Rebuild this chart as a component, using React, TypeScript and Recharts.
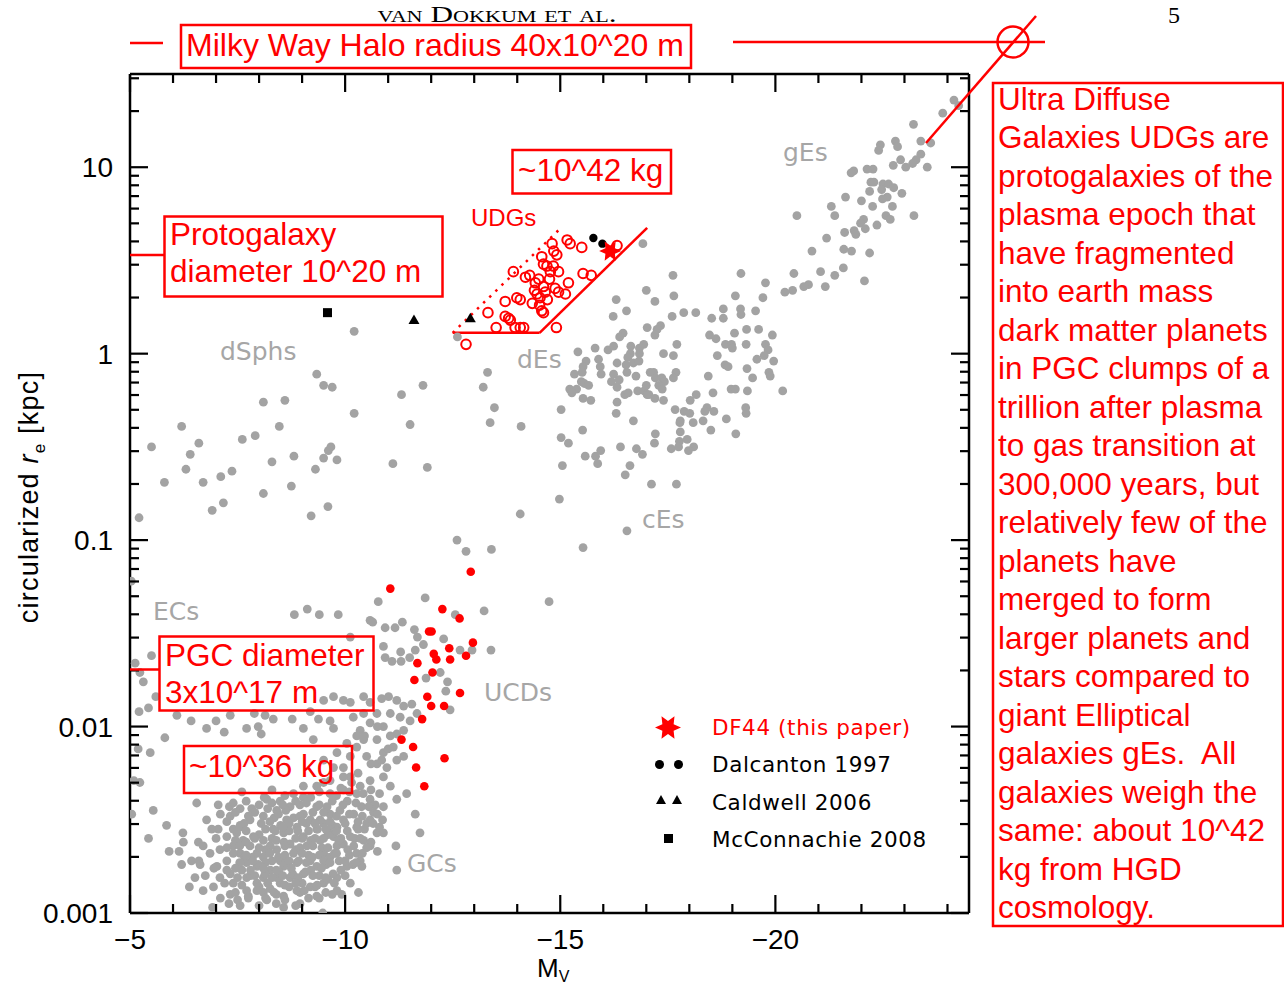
import React from 'react';
import { ScatterChart, Scatter, XAxis, YAxis, ReferenceLine } from 'recharts';

type Pt = [number, number]; // [M_V, log10(r_e / kpc)]

// ---------------- data ----------------
const giantEllipticals: Pt[] = [
  [-24.15,1.36],[-23.89,1.29],[-24.26,1.33],[-23.21,1.23],[-22.79,1.14],[-22.84,1.11],[-23.38,1.14],[-23.61,1.13],[-22.44,1.12],[-22.40,1.09],
  [-22.91,1.04],[-23.38,1.07],[-23.27,1.04],[-23.19,1.02],[-23.03,1.00],[-22.74,1.01],[-23.53,1.00],[-22.27,0.99],[-22.13,0.99],[-21.82,0.98],
  [-21.76,0.97],[-22.22,0.92],[-22.29,0.92],[-22.50,0.91],[-22.63,0.91],[-22.75,0.89],[-22.47,0.88],[-22.19,0.87],[-22.94,0.86],[-22.60,0.84],
  [-22.49,0.83],[-21.63,0.84],[-22.00,0.82],[-22.72,0.79],[-22.26,0.79],[-21.30,0.79],[-21.38,0.74],[-20.50,0.74],[-22.57,0.74],[-22.67,0.72],
  [-23.22,0.74],[-22.05,0.72],[-21.98,0.70],[-22.36,0.69],[-22.09,0.67],[-21.83,0.66],[-21.61,0.65],[-21.87,0.64],[-21.19,0.62],[-21.59,0.56],
  [-21.77,0.55],[-20.85,0.55],[-22.19,0.54],[-21.05,0.44],[-20.43,0.43],[-21.58,0.46],[-21.38,0.42],[-19.77,0.38],[-20.77,0.37],[-20.66,0.36],
  [-22.07,0.39],[-21.16,0.36],[-20.40,0.34],[-20.22,0.33],[-19.71,0.30],
];

const dwarfEllipticals: Pt[] = [
  [-16.92,0.59],[-17.62,0.42],[-19.20,0.43],[-19.07,0.31],[-17.00,0.34],[-17.64,0.31],[-16.30,0.29],[-17.20,0.28],[-16.54,0.23],[-16.23,0.20],
  [-17.87,0.22],[-18.15,0.22],[-17.60,0.20],[-18.52,0.19],[-18.79,0.24],[-18.79,0.19],[-19.19,0.24],[-19.20,0.21],[-19.54,0.23],[-17.33,0.15],
  [-17.25,0.13],[-17.02,0.14],[-17.20,0.10],[-16.46,0.11],[-16.38,0.09],[-19.05,0.11],[-19.33,0.13],[-19.61,0.13],[-19.93,0.10],[-18.47,0.10],
  [-18.62,0.08],[-18.84,0.05],[-18.98,0.05],[-19.00,0.03],[-19.32,0.05],[-19.77,0.05],[-16.94,0.05],[-16.64,0.04],[-16.84,0.03],[-15.81,0.03],
  [-16.11,0.02],[-16.24,0.04],[-15.41,0.01],[-17.71,0.05],[-16.63,0.00],[-16.84,0.00],[-16.57,-0.02],[-17.40,0.00],[-17.63,-0.01],[-18.65,-0.01],
  [-19.83,0.02],[-19.74,-0.01],[-19.57,-0.03],[-19.96,-0.04],[-16.32,-0.05],[-15.89,-0.03],[-15.60,-0.04],[-15.53,-0.07],[-15.93,-0.07],[-16.70,-0.05],
  [-16.83,-0.04],[-16.53,-0.06],[-16.55,-0.10],[-18.83,-0.06],[-18.90,-0.07],[-19.34,-0.08],[-19.85,-0.10],[-19.88,-0.12],[-19.47,-0.13],[-15.33,-0.11],
  [-15.51,-0.10],[-15.95,-0.11],[-16.24,-0.11],[-16.37,-0.14],[-16.76,-0.12],[-17.09,-0.10],[-17.17,-0.10],[-17.21,-0.13],[-17.36,-0.13],[-17.42,-0.15],
  [-17.69,-0.10],[-17.63,-0.13],[-18.44,-0.12],[-15.49,-0.15],[-15.56,-0.16],[-15.66,-0.17],[-16.19,-0.15],[-15.22,-0.19],[-15.38,-0.19],[-15.27,-0.21],
  [-16.32,-0.18],[-16.50,-0.22],[-16.58,-0.21],[-16.80,-0.20],[-16.95,-0.20],[-17.00,-0.17],[-17.02,-0.22],[-17.06,-0.22],[-17.20,-0.24],[-17.29,-0.17],
  [-17.37,-0.19],[-17.40,-0.25],[-15.53,-0.24],[-15.71,-0.25],[-16.32,-0.26],[-18.16,-0.22],[-18.02,-0.25],[-18.55,-0.21],[-18.97,-0.19],[-19.07,-0.19],
  [-19.35,-0.20],[-20.17,-0.20],[-15.02,-0.30],[-16.30,-0.32],[-17.67,-0.30],[-17.88,-0.31],[-18.01,-0.32],[-18.41,-0.29],[-18.36,-0.31],[-18.57,-0.31],
  [-19.31,-0.29],[-19.32,-0.32],[-17.79,-0.36],[-17.78,-0.37],[-18.09,-0.37],[-18.32,-0.36],[-18.86,-0.35],[-16.70,-0.36],[-15.52,-0.41],[-17.79,-0.42],
  [-18.50,-0.41],[-19.08,-0.43],[-17.21,-0.43],[-15.02,-0.45],[-15.19,-0.48],[-17.19,-0.48],[-17.77,-0.47],[-17.95,-0.46],[-16.40,-0.50],[-16.77,-0.51],
  [-16.91,-0.54],[-17.58,-0.51],[-17.75,-0.50],[-18.10,-0.50],[-17.98,-0.52],[-15.94,-0.52],[-15.82,-0.55],[-15.58,-0.55],[-15.87,-0.59],[-15.05,-0.60],
  [-16.62,-0.60],[-16.51,-0.65],[-17.12,-0.70],[-17.70,-0.70],[-14.98,-0.78],[-16.55,-0.95],[-15.53,-1.04],
  [-12.61,0.09],[-13.31,-0.10],[-13.21,-0.18],[-13.47,-0.29],[-13.37,-0.37],[-14.09,-0.39],
  [-12.60,-1.00],[-12.81,-1.06],[-13.40,-1.05],[-14.07,-0.86],[-14.74,-1.33],[-13.23,-1.38],[-13.39,-1.59],[-12.67,-1.59],[-12.95,-1.59],
];

const dwarfSpheroidals: Pt[] = [
  [-10.21,0.12],[-9.34,-0.11],[-9.50,-0.17],[-9.70,-0.18],[-8.10,-0.26],[-8.60,-0.25],[-10.21,-0.32],[-11.31,-0.22],[-11.81,-0.17],[-11.51,-0.38],
  [-6.20,-0.39],[-5.50,-0.50],[-6.60,-0.48],[-6.40,-0.54],[-6.30,-0.62],[-5.80,-0.69],[-6.70,-0.69],[-7.11,-0.66],[-7.37,-0.63],[-7.61,-0.46],
  [-7.91,-0.44],[-8.47,-0.39],[-8.30,-0.58],[-8.81,-0.55],[-9.31,-0.62],[-9.50,-0.56],[-9.61,-0.52],[-9.67,-0.50],[-9.81,-0.57],[-8.75,-0.71],
  [-8.10,-0.75],[-7.17,-0.80],[-6.91,-0.84],[-9.60,-0.82],[-9.21,-0.87],[-11.11,-0.59],[-11.91,-0.61],[-5.21,-0.88],
];

const compactSystems: Pt[] = [
  [-5.03,-1.22],[-10.77,-1.33],[-11.86,-1.31],[-9.12,-1.37],[-8.82,-1.40],[-9.40,-1.40],[-9.84,-1.40],[-10.12,-1.52],[-10.58,-1.43],[-10.64,-1.44],
  [-10.93,-1.47],[-11.16,-1.47],[-11.33,-1.44],[-11.61,-1.48],[-11.68,-1.52],[-12.29,-1.53],[-12.56,-1.40],[-10.89,-1.57],[-10.93,-1.63],[-11.29,-1.60],
  [-11.50,-1.63],[-11.63,-1.59],[-11.82,-1.56],[-11.30,-1.65],[-11.09,-1.65],[-11.88,-1.74],[-12.21,-1.71],[-12.38,-1.76],[-12.34,-1.81],[-12.44,-1.91],
  [-5.12,-1.66],[-5.50,-1.62],[-5.23,-1.71],[-5.31,-1.76],[-5.60,-1.84],[-5.21,-1.92],[-5.43,-1.90],[-5.81,-2.06],[-5.19,-2.12],[-5.47,-2.14],
  [-5.09,-2.29],[-5.23,-2.30],[-5.04,-2.47],[-5.54,-2.45],[-5.85,-2.53],[-5.43,-2.60],[-6.23,-2.57],[-6.24,-2.62],[-6.59,-2.62],[-5.91,-2.67],
  [-6.14,-2.67],[-6.43,-2.72],[-6.20,-2.74],[-6.63,-2.74],[-6.51,-2.81],[-6.38,-2.86],[-6.94,-2.86],[-6.92,-2.97],[-7.33,-2.90],[-7.56,-2.96],
  [-7.75,-2.91],[-8.18,-2.93],[-8.57,-2.97],[-8.95,-2.95],[-9.48,-3.00],[-9.92,-2.90],[-10.31,-2.89],[-11.20,-2.77],[-11.74,-2.57],[-11.63,-2.47],
  [-11.43,-2.36],[-10.87,-2.50],[-10.75,-2.67],[-11.18,-2.64],[-10.39,-2.75],
];

const globularClusters: Pt[] = [
  [-6.09,-1.94],[-6.42,-1.97],[-6.78,-2.01],[-7.00,-1.97],[-7.19,-2.03],[-7.33,-1.94],[-7.71,-2.01],[-7.98,-2.00],[-8.05,-2.04],[-7.89,-1.93],
  [-8.14,-1.94],[-8.33,-1.96],[-8.77,-1.96],[-9.03,-2.01],[-9.26,-2.07],[-9.38,-1.96],[-9.65,-1.97],[-9.73,-2.01],[-9.19,-1.92],[-9.50,-1.86],
  [-9.73,-1.84],[-9.96,-1.86],[-10.12,-1.87],[-10.43,-1.84],[-10.58,-1.87],[-10.85,-1.85],[-11.01,-1.84],[-11.20,-1.86],[-11.36,-1.89],[-11.55,-1.88],
  [-11.67,-1.93],[-11.51,-1.97],[-11.36,-2.02],[-11.20,-2.04],[-11.12,-2.11],[-11.20,-2.18],[-11.36,-2.16],[-10.97,-2.22],[-10.74,-2.07],[-10.89,-2.00],
  [-10.58,-1.98],[-10.35,-2.02],[-10.43,-2.07],[-10.27,-2.11],[-10.12,-2.16],[-10.50,-2.16],[-10.74,-2.20],[-10.89,-2.27],[-10.58,-2.29],[-10.35,-2.32],
  [-10.12,-2.27],[-9.96,-2.22],
  [-6.55,-2.41],[-7.05,-2.42],[-7.31,-2.43],[-7.56,-2.44],[-7.83,-2.44],[-7.33,-2.48],[-7.56,-2.53],[-6.78,-2.50],[-7.05,-2.55],[-7.48,-2.57],
  [-7.79,-2.50],[-8.18,-2.39],[-8.49,-2.40],[-9.03,-2.38],[-9.65,-2.36],[-9.96,-2.34],[-10.27,-2.36],[-10.58,-2.39],[-10.89,-2.43],[-10.58,-2.50],
  [-10.74,-2.57],[-10.43,-2.61],[-10.27,-2.68],[-10.04,-2.75],[-9.81,-2.81],[-9.50,-2.84],[-9.19,-2.86],[-8.88,-2.88],[-8.49,-2.84],[-8.26,-2.87],
  [-7.95,-2.84],[-7.71,-2.81],[-7.33,-2.79],[-7.25,-2.72],[-7.56,-2.68],[-7.79,-2.64],[-8.10,-2.61],[-8.33,-2.55],[-8.64,-2.50],[-9.03,-2.47],
  [-9.34,-2.43],[-9.65,-2.47],[-9.96,-2.50],[-10.27,-2.54],[-10.12,-2.59],[-9.81,-2.64],[-9.50,-2.68],[-9.19,-2.72],[-8.88,-2.73],[-8.57,-2.75],
  [-8.26,-2.77],[-7.95,-2.75],[-7.71,-2.73],[-8.10,-2.70],[-8.41,-2.66],[-8.72,-2.63],[-9.03,-2.59],[-9.34,-2.55],[-9.65,-2.57],[-9.81,-2.54],
  [-9.50,-2.52],[-9.19,-2.50],[-8.88,-2.54],[-8.57,-2.57],[-8.26,-2.64],[-7.95,-2.68],[-8.49,-2.72],[-8.80,-2.68],[-9.11,-2.64],[-9.42,-2.61],
  [-9.73,-2.59],[-9.96,-2.63],[-9.65,-2.70],[-9.34,-2.75],[-9.03,-2.79],[-8.72,-2.81],[-8.41,-2.81],[-8.10,-2.81],[-7.87,-2.59],[-7.63,-2.61],
  [-8.72,-2.43],[-8.41,-2.45],[-8.10,-2.48],[-9.03,-2.32],[-9.34,-2.32],[-9.65,-2.29],[-9.96,-2.27],[-9.73,-2.22],[-9.50,-2.18],[-9.81,-2.14],
  [-10.04,-2.09],[-10.27,-2.05],[-10.19,-1.95],[-10.43,-1.93],[-10.74,-1.93],[-11.05,-1.93],[-11.28,-1.95],[-10.89,-2.14],[-11.05,-2.32],[-11.20,-2.39],
  [-10.89,-2.57],[-10.58,-2.64],[-10.35,-2.72],[-10.12,-2.84],[-9.81,-2.88],[-9.34,-2.91],[-8.95,-2.89],[-8.57,-2.91],[-8.10,-2.89],[-7.71,-2.88],
  [-7.40,-2.84],[-7.09,-2.81],[-7.02,-2.75],[-6.86,-2.68],[-7.09,-2.66],[-7.25,-2.59],[-7.40,-2.55],
  [-7.90,-2.46],[-8.05,-2.52],[-8.20,-2.44],[-8.35,-2.49],[-8.50,-2.53],[-8.62,-2.45],[-8.80,-2.49],[-8.95,-2.42],[-9.10,-2.52],[-9.25,-2.46],
  [-9.42,-2.50],[-9.58,-2.43],[-9.70,-2.53],[-9.88,-2.45],[-10.05,-2.40],[-10.20,-2.47],[-10.38,-2.43],[-10.50,-2.52],[-10.66,-2.46],[-10.80,-2.36],
  [-7.70,-2.62],[-7.85,-2.70],[-8.00,-2.58],[-8.15,-2.66],[-8.30,-2.60],[-8.45,-2.70],[-8.58,-2.62],[-8.70,-2.56],[-8.85,-2.66],[-9.00,-2.60],
  [-9.15,-2.69],[-9.30,-2.60],[-9.46,-2.65],[-9.60,-2.58],[-9.75,-2.68],[-9.90,-2.60],[-10.06,-2.66],[-10.22,-2.60],[-10.40,-2.68],[-10.60,-2.62],
  [-7.60,-2.77],[-7.80,-2.80],[-7.98,-2.74],[-8.14,-2.79],[-8.30,-2.72],[-8.46,-2.78],[-8.62,-2.73],[-8.78,-2.79],[-8.92,-2.72],[-9.08,-2.78],
  [-9.24,-2.70],[-9.40,-2.80],[-9.56,-2.74],[-9.72,-2.79],[-9.86,-2.72],[-10.00,-2.80],[-10.18,-2.74],[-7.55,-2.54],[-7.40,-2.64],[-7.66,-2.70],
  [-8.38,-2.56],[-8.90,-2.56],[-9.36,-2.55],[-9.80,-2.56],[-10.30,-2.55],[-8.12,-2.38],[-8.60,-2.37],[-9.20,-2.38],[-9.50,-2.30],[-9.90,-2.33],
  [-10.15,-2.30],[-10.42,-2.36],[-10.70,-2.42],[-10.30,-2.25],[-10.60,-2.20],[-10.85,-2.18],[-11.00,-2.12],[-10.75,-2.00],[-11.05,-2.05],[-10.45,-2.05],
  [-8.70,-2.86],[-9.00,-2.84],[-9.30,-2.86],[-9.60,-2.82],[-8.40,-2.90],[-8.00,-2.86],[-7.75,-2.92],[-9.15,-2.92],[-8.85,-2.96],[-9.70,-2.90],
];

// the dense core of the globular-cluster cloud
const globularClusterCore: Pt[] = [
  [-7.60,-2.35],[-8.30,-2.34],[-8.80,-2.36],[-9.40,-2.35],[-9.80,-2.37],[-10.10,-2.35],[-10.60,-2.34],
  [-7.40,-2.41],[-7.70,-2.40],[-8.00,-2.42],[-8.30,-2.41],[-8.55,-2.42],[-8.85,-2.40],[-9.10,-2.41],[-9.40,-2.42],[-9.70,-2.40],[-9.95,-2.42],[-10.25,-2.41],[-10.55,-2.43],
  [-7.10,-2.47],[-7.45,-2.46],[-7.75,-2.48],[-8.45,-2.47],[-8.95,-2.48],[-9.50,-2.46],[-9.80,-2.48],[-10.10,-2.47],[-10.40,-2.48],[-10.75,-2.47],
  [-7.25,-2.51],[-7.65,-2.52],[-8.25,-2.51],[-8.70,-2.52],[-9.00,-2.51],[-9.30,-2.52],[-9.65,-2.51],[-10.00,-2.52],[-10.30,-2.51],[-10.65,-2.52],
  [-6.90,-2.55],[-7.70,-2.56],[-8.15,-2.55],[-8.55,-2.54],[-9.15,-2.56],[-9.55,-2.55],[-10.05,-2.56],[-10.45,-2.55],[-10.80,-2.54],
  [-7.00,-2.60],[-7.45,-2.61],[-7.90,-2.60],[-8.40,-2.61],[-8.85,-2.60],[-9.20,-2.61],[-9.50,-2.60],[-9.85,-2.61],[-10.35,-2.60],
  [-6.70,-2.64],[-7.25,-2.65],[-7.55,-2.64],[-8.00,-2.65],[-8.60,-2.64],[-8.95,-2.65],[-9.25,-2.64],[-9.60,-2.65],[-10.20,-2.64],[-10.50,-2.65],
  [-7.40,-2.68],[-7.70,-2.69],[-8.25,-2.68],[-8.60,-2.69],[-9.00,-2.68],[-9.40,-2.69],[-9.80,-2.68],[-10.10,-2.69],
  [-6.60,-2.72],[-7.55,-2.73],[-7.85,-2.72],[-8.15,-2.73],[-8.70,-2.72],[-9.10,-2.73],[-9.50,-2.72],[-9.65,-2.73],[-10.00,-2.72],[-10.25,-2.73],
  [-6.95,-2.76],[-7.25,-2.77],[-7.45,-2.76],[-7.80,-2.77],[-8.10,-2.76],[-8.40,-2.77],[-8.75,-2.76],[-9.20,-2.77],[-9.45,-2.76],[-9.90,-2.77],
  [-6.75,-2.80],[-7.50,-2.81],[-7.90,-2.80],[-8.30,-2.81],[-8.55,-2.80],[-8.90,-2.81],[-9.25,-2.80],[-9.55,-2.81],
  [-7.20,-2.84],[-7.60,-2.85],[-8.20,-2.84],[-8.60,-2.85],[-8.85,-2.84],[-9.35,-2.85],[-9.75,-2.84],
  [-6.70,-2.88],[-7.45,-2.89],[-7.95,-2.88],[-8.35,-2.89],[-9.05,-2.88],[-9.55,-2.89],
  [-7.10,-2.92],[-7.50,-2.93],[-8.15,-2.92],[-8.60,-2.93],[-9.40,-2.92],
  [-7.30,-2.95],[-8.00,-2.96],[-8.40,-2.95],
];

const redCompact: Pt[] = [
  [-12.92,-1.17],[-11.05,-1.26],[-12.26,-1.37],[-12.66,-1.42],[-11.95,-1.49],[-12.01,-1.49],[-12.97,-1.55],[-12.42,-1.58],[-12.81,-1.62],[-12.06,-1.61],
  [-12.12,-1.64],[-12.44,-1.64],[-11.68,-1.66],[-12.03,-1.71],[-11.61,-1.75],[-12.67,-1.82],[-11.91,-1.84],[-12.00,-1.89],[-12.30,-1.89],[-11.79,-1.96],
  [-11.31,-2.07],[-11.58,-2.11],[-12.31,-2.17],[-11.65,-2.22],[-11.84,-2.32],
];

const udgCircles: Pt[] = [
  [-12.81,0.05],[-13.32,0.22],[-13.51,0.14],[-13.72,0.20],[-13.80,0.19],[-13.84,0.18],[-13.95,0.14],[-14.07,0.14],[-14.15,0.14],[-13.72,0.28],
  [-13.99,0.30],[-14.07,0.29],[-13.91,0.44],[-14.19,0.41],[-14.29,0.42],[-14.42,0.38],[-14.40,0.34],[-14.46,0.32],[-14.53,0.30],[-14.52,0.26],
  [-14.57,0.23],[-14.61,0.22],[-14.61,0.36],[-14.65,0.33],[-14.57,0.52],[-14.61,0.48],[-14.69,0.47],[-14.77,0.44],[-14.84,0.47],[-14.92,0.53],
  [-14.96,0.44],[-14.81,0.59],[-14.88,0.35],[-14.96,0.33],[-15.12,0.32],[-15.19,0.38],[-15.16,0.61],[-15.23,0.59],[-15.50,0.57],[-15.53,0.43],
  [-15.72,0.42],[-14.91,0.14],[-16.32,0.58],[-14.50,0.40],[-14.75,0.40],[-14.35,0.27],[-14.70,0.29],[-14.85,0.55],
];

const dalcanton1997: Pt[] = [[-15.77,0.62],[-15.98,0.59]];
const caldwell2006: Pt[] = [[-11.60,0.18],[-12.91,0.19]];
const mcconnachie2008: Pt[] = [[-9.59,0.22]];
const df44: Pt[] = [[-16.16,0.55]];

const udgSolidEdge: Pt[] = [[-12.50,0.112],[-14.52,0.112],[-17.02,0.675]];
const udgDottedEdge: Pt[] = [[-12.50,0.112],[-15.00,0.671]];

const xMajor = [-5, -10, -15, -20];
const yMajorLabels: Record<string, string> = { '-3': '0.001', '-2': '0.01', '-1': '0.1', '0': '1', '1': '10' };

const rightText = [
  'Ultra Diffuse', 'Galaxies UDGs are', 'protogalaxies of the', 'plasma epoch that', 'have fragmented',
  'into earth mass', 'dark matter planets', 'in PGC clumps of a', 'trillion after plasma', 'to gas transition at',
  '300,000 years, but', 'relatively few of the', 'planets have', 'merged to form', 'larger planets and',
  'stars compared to', 'giant Elliptical', 'galaxies gEs.  All', 'galaxies weigh the', 'same: about 10^42',
  'kg from HGD', 'cosmology.',
];

// ---------------- helpers ----------------
const toObj = (arr: Pt[]) => arr.map(([mv, lr]) => ({ mv, lr }));
const xTicks: number[] = [];
for (let v = -5; v >= -24; v--) xTicks.push(v);
const yTicks: number[] = [];
for (let d = -3; d <= 1; d++) for (let k = 1; k <= 9; k++) { const t = d + Math.log10(k); if (t <= 1.5 + 1e-9) yTicks.push(t); }
const isInt = (v: number) => Math.abs(v - Math.round(v)) < 1e-6;

const RED = '#ff0000';
const GRAY = '#a3a3a3';
const SANS = 'Liberation Sans, Arial, Helvetica, sans-serif';
const LBL = 'DejaVu Sans, Verdana, sans-serif';

const starPts = (cx: number, cy: number, R: number, r: number) => {
  const p: string[] = [];
  for (let i = 0; i < 12; i++) {
    const a = (Math.PI / 6) * i;
    const rr = i % 2 === 0 ? R : r;
    p.push(`${cx + rr * Math.cos(a)},${cy + rr * Math.sin(a)}`);
  }
  return p.join(' ');
};

const grayDot = (p: any) => <circle cx={p.cx} cy={p.cy} r={4.4} fill={GRAY} />;
const redDot = (p: any) => <circle cx={p.cx} cy={p.cy} r={4.3} fill={RED} />;
const redRing = (p: any) => <circle cx={p.cx} cy={p.cy} r={4.8} fill="none" stroke={RED} strokeWidth={2} />;
const blackDot = (p: any) => <circle cx={p.cx} cy={p.cy} r={4.2} fill="#000" />;
const triShape = (p: any) => <polygon points={`${p.cx},${p.cy - 5.5} ${p.cx + 5.5},${p.cy + 4} ${p.cx - 5.5},${p.cy + 4}`} fill="#000" />;
const sqShape = (p: any) => <rect x={p.cx - 4.5} y={p.cy - 4.5} width={9} height={9} fill="#000" />;
const starShape = (p: any) => <polygon points={starPts(p.cx, p.cy, 11, 5.5)} fill={RED} />;

const BottomTick = (props: any) => {
  const { x, y, payload } = props;
  const v = payload.value;
  const major = xMajor.includes(Math.round(v)) && isInt(v);
  return (
    <g>
      <line x1={x} x2={x} y1={y} y2={y - (major ? 18 : 9)} stroke="#000" strokeWidth={2.2} />
      {major && (
        <text x={x} y={y + 36} textAnchor="middle" fontSize={28} fontFamily={SANS} fill="#000">
          {'\u2212' + Math.abs(v)}
        </text>
      )}
    </g>
  );
};
const TopTick = (props: any) => {
  const { x, y, payload } = props;
  const major = xMajor.includes(Math.round(payload.value));
  return <line x1={x} x2={x} y1={y} y2={y + (major ? 18 : 9)} stroke="#000" strokeWidth={2.2} />;
};
const LeftTick = (props: any) => {
  const { x, y, payload } = props;
  const v = payload.value;
  const major = isInt(v);
  return (
    <g>
      <line x1={x} x2={x + (major ? 18 : 9)} y1={y} y2={y} stroke="#000" strokeWidth={2.2} />
      {major && (
        <text x={x - 17} y={y + 10} textAnchor="end" fontSize={28} fontFamily={SANS} fill="#000">
          {yMajorLabels[String(Math.round(v))]}
        </text>
      )}
    </g>
  );
};
const RightTick = (props: any) => {
  const { x, y, payload } = props;
  const major = isInt(payload.value);
  return <line x1={x} x2={x - (major ? 18 : 9)} y1={y} y2={y} stroke="#000" strokeWidth={2.2} />;
};

const axisLine = { stroke: '#000', strokeWidth: 2.5 };

export default function App() {
  const grayAll = [...giantEllipticals, ...dwarfEllipticals, ...dwarfSpheroidals, ...compactSystems, ...globularClusters, ...globularClusterCore];
  return (
    <div style={{ position: 'absolute', left: 0, top: 0, width: 1284, height: 988, background: '#fff' }}>
      <ScatterChart width={1284} height={988} margin={{ top: 44, right: 285, bottom: 45, left: 100 }}>
        <XAxis xAxisId="b" type="number" dataKey="mv" domain={[-24.5, -5]} reversed allowDataOverflow
          ticks={xTicks} interval={0} tickSize={0} tickMargin={0} tickLine={false} axisLine={axisLine}
          tick={<BottomTick />} height={30} />
        <XAxis xAxisId="t" orientation="top" type="number" dataKey="mv" domain={[-24.5, -5]} reversed allowDataOverflow
          ticks={xTicks} interval={0} tickSize={0} tickMargin={0} tickLine={false} axisLine={axisLine}
          tick={<TopTick />} height={30} />
        <YAxis yAxisId="l" type="number" dataKey="lr" domain={[-3, 1.5]} allowDataOverflow
          ticks={yTicks} interval={0} tickSize={0} tickMargin={0} tickLine={false} axisLine={axisLine}
          tick={<LeftTick />} width={30} />
        <YAxis yAxisId="r" orientation="right" type="number" dataKey="lr" domain={[-3, 1.5]} allowDataOverflow
          ticks={yTicks} interval={0} tickSize={0} tickMargin={0} tickLine={false} axisLine={axisLine}
          tick={<RightTick />} width={30} />

        <Scatter name="galaxies" data={toObj(grayAll)} xAxisId="b" yAxisId="l" shape={grayDot} isAnimationActive={false} />
        <Scatter name="red compact" data={toObj(redCompact)} xAxisId="b" yAxisId="l" shape={redDot} isAnimationActive={false} />
        <Scatter name="UDGs" data={toObj(udgCircles)} xAxisId="b" yAxisId="l" shape={redRing} isAnimationActive={false} />
        <Scatter name="Dalcanton 1997" data={toObj(dalcanton1997)} xAxisId="b" yAxisId="l" shape={blackDot} isAnimationActive={false} />
        <Scatter name="Caldwell 2006" data={toObj(caldwell2006)} xAxisId="b" yAxisId="l" shape={triShape} isAnimationActive={false} />
        <Scatter name="McConnachie 2008" data={toObj(mcconnachie2008)} xAxisId="b" yAxisId="l" shape={sqShape} isAnimationActive={false} />
        <Scatter name="DF44" data={toObj(df44)} xAxisId="b" yAxisId="l" shape={starShape} isAnimationActive={false} />

        {udgSolidEdge.slice(1).map((p, i) => (
          <ReferenceLine key={'s' + i} xAxisId="b" yAxisId="l" ifOverflow="visible"
            segment={[{ x: udgSolidEdge[i][0], y: udgSolidEdge[i][1] }, { x: p[0], y: p[1] }]}
            stroke={RED} strokeWidth={2.5} />
        ))}
        <ReferenceLine xAxisId="b" yAxisId="l" ifOverflow="visible"
          segment={[{ x: udgDottedEdge[0][0], y: udgDottedEdge[0][1] }, { x: udgDottedEdge[1][0], y: udgDottedEdge[1][1] }]}
          stroke={RED} strokeWidth={2.5} strokeDasharray="2.5 6" />
      </ScatterChart>

      <svg width={1284} height={988} style={{ position: 'absolute', left: 0, top: 0, pointerEvents: 'none' }}>
        {/* page header */}
        <text x={497} y={22} textAnchor="middle" fontFamily="Liberation Serif, Times New Roman, serif" fontSize={24}
          style={{ fontVariant: 'small-caps' }} textLength={239} lengthAdjust="spacingAndGlyphs">van Dokkum et al.</text>
        <text x={1174} y={23} textAnchor="middle" fontFamily="Liberation Serif, Times New Roman, serif" fontSize={24}>5</text>

        {/* axis titles */}
        <text transform="translate(38,497) rotate(-90)" textAnchor="middle" fontFamily={SANS} fontSize={27} fill="#000" letterSpacing={1.2}>
          circularized <tspan fontStyle="italic">r</tspan><tspan fontSize={17} dy={7}>e</tspan><tspan dy={-7}>{'  [kpc]'}</tspan>
        </text>
        <text x={537} y={977} fontFamily={SANS} fontSize={26} fill="#000">M<tspan fontSize={16} dy={5}>V</tspan></text>

        {/* gray region labels */}
        <g fontFamily={LBL} fontSize={25} fill="#a6a6a6">
          <text x={783} y={161}>gEs</text>
          <text x={220} y={360}>dSphs</text>
          <text x={517} y={368}>dEs</text>
          <text x={642} y={528}>cEs</text>
          <text x={153} y={620}>ECs</text>
          <text x={484} y={701}>UCDs</text>
          <text x={407} y={872}>GCs</text>
        </g>

        {/* legend */}
        <polygon points={starPts(668, 727.5, 13, 6.5)} fill={RED} />
        <circle cx={659.5} cy={764.5} r={4.5} fill="#000" />
        <circle cx={678.5} cy={764.5} r={4.5} fill="#000" />
        <polygon points="661,795 666,804 656,804" fill="#000" />
        <polygon points="677,795 682,804 672,804" fill="#000" />
        <rect x={664} y={834} width={9} height={9} fill="#000" />
        <g fontFamily={LBL} fontSize={21.5} letterSpacing={0.6}>
          <text x={712} y={735} fill={RED}>DF44 (this paper)</text>
          <text x={712} y={772} fill="#000">Dalcanton 1997</text>
          <text x={712} y={810} fill="#000">Caldwell 2006</text>
          <text x={712} y={847} fill="#000">McConnachie 2008</text>
        </g>

        {/* red annotations */}
        <g stroke={RED} strokeWidth={2.5} fill="none">
          <line x1={130} y1={43} x2={163} y2={43} />
          <rect x={181} y={25} width={510} height={43} />
          <line x1={733} y1={42} x2={1045} y2={42} />
          <circle cx={1013} cy={42} r={15.5} />
          <line x1={926} y1={143} x2={1036} y2={16} />
          <rect x={993} y={83} width={290} height={843} />
          <line x1={130} y1={255} x2={164} y2={255} />
          <rect x={164.5} y={216.5} width={278} height={80} />
          <line x1={130} y1={669.5} x2={159} y2={669.5} />
          <rect x={159.5} y={636.5} width={214} height={74} />
          <rect x={184} y={746} width={168} height={47} />
          <rect x={512.5} y={150} width={158.5} height={43.5} />
        </g>
        <g fontFamily={SANS} fontSize={31.5} fill={RED}>
          <text x={186} y={56} textLength={498} lengthAdjust="spacingAndGlyphs">Milky Way Halo radius 40x10^20 m</text>
          <text x={170} y={245}>Protogalaxy</text>
          <text x={170} y={282}>diameter 10^20 m</text>
          <text x={165} y={666}>PGC diameter</text>
          <text x={165} y={703}>3x10^17 m</text>
          <text x={189} y={777}>~10^36 kg</text>
          <text x={518} y={181}>~10^42 kg</text>
          {rightText.map((t, i) => (
            <text key={i} x={998} y={110 + i * 38.48} style={{ whiteSpace: 'pre' }}>{t}</text>
          ))}
        </g>
        <text x={471} y={226} fontFamily={SANS} fontSize={24} fill={RED}>UDGs</text>
      </svg>
    </div>
  );
}
